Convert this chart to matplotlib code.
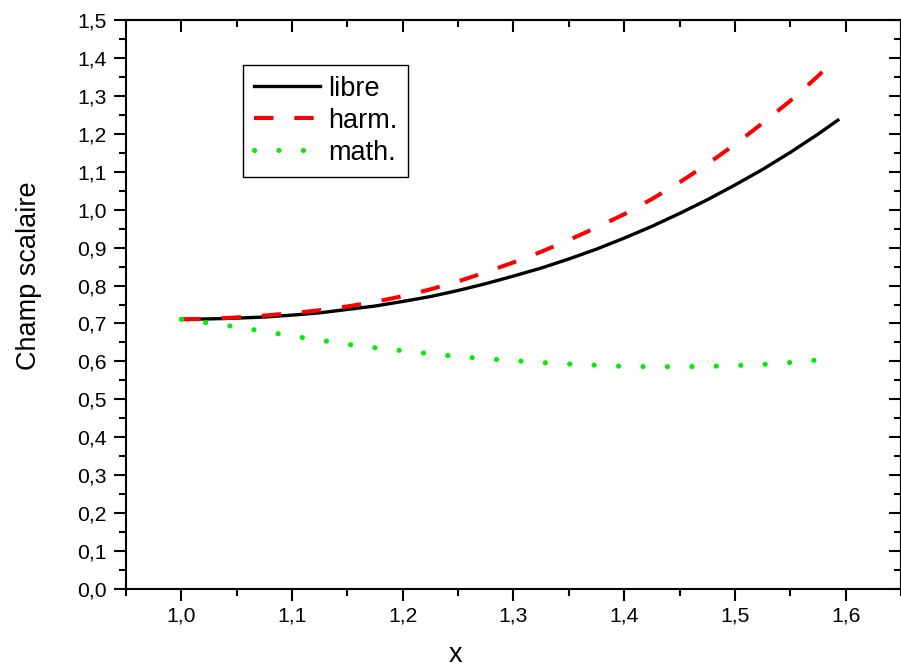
import numpy as np
import matplotlib
matplotlib.use("Agg")
import matplotlib.pyplot as plt
from matplotlib.ticker import MultipleLocator, FuncFormatter

# data
x_libre = [1.000, 1.025, 1.050, 1.075, 1.100, 1.125, 1.150, 1.175, 1.200, 1.225,
           1.250, 1.275, 1.300, 1.325, 1.350, 1.375, 1.400, 1.425, 1.450, 1.475,
           1.500, 1.525, 1.550, 1.575, 1.593]
y_libre = [0.711, 0.712, 0.714, 0.717, 0.722, 0.728, 0.737, 0.746, 0.758, 0.771,
           0.787, 0.805, 0.825, 0.846, 0.870, 0.896, 0.925, 0.956, 0.990, 1.026,
           1.065, 1.106, 1.151, 1.199, 1.236]

x_harm = [1.000, 1.025, 1.050, 1.075, 1.100, 1.125, 1.150, 1.175, 1.200, 1.225,
          1.250, 1.275, 1.300, 1.325, 1.350, 1.375, 1.400, 1.425, 1.450, 1.475,
          1.500, 1.525, 1.550, 1.575, 1.592]
y_harm = [0.711, 0.712, 0.716, 0.721, 0.727, 0.735, 0.745, 0.757, 0.772, 0.790,
          0.811, 0.835, 0.861, 0.889, 0.920, 0.953, 0.988, 1.028, 1.072, 1.120,
          1.172, 1.228, 1.287, 1.352, 1.402]

x_math = [1.000, 1.025, 1.050, 1.075, 1.100, 1.125, 1.150, 1.175, 1.200, 1.225,
          1.250, 1.275, 1.300, 1.325, 1.350, 1.375, 1.400, 1.425, 1.450, 1.475,
          1.500, 1.525, 1.550, 1.580]
y_math = [0.711, 0.701, 0.691, 0.679, 0.667, 0.656, 0.645, 0.636, 0.628, 0.620,
          0.613, 0.607, 0.602, 0.597, 0.593, 0.590, 0.587, 0.586, 0.586, 0.587,
          0.589, 0.592, 0.597, 0.605]

plt.rcParams['font.family'] = ['Liberation Sans', 'DejaVu Sans']
plt.rcParams['lines.scale_dashes'] = False

fig = plt.figure(figsize=(9.01, 6.69), dpi=100)
ax = fig.add_axes([126/901, 1 - 589/669, 1 - 126/901, (589 - 20)/669])

ax.plot(x_libre, y_libre, color='black', lw=2.4, label='libre')
ax.plot(x_harm, y_harm, color='#ff0000', lw=2.9, dashes=(14, 15), label='harm.')
ax.plot(x_math, y_math, color='#00ee00', lw=3.7, dashes=(0.1, 17.5),
        dash_capstyle='round', label='math.')

ax.set_xlim(0.95, 1.65)
ax.set_ylim(0.0, 1.5)

fmt = FuncFormatter(lambda v, p: f'{v:.1f}'.replace('.', ','))
ax.xaxis.set_major_locator(MultipleLocator(0.1))
ax.xaxis.set_minor_locator(MultipleLocator(0.05))
ax.yaxis.set_major_locator(MultipleLocator(0.1))
ax.yaxis.set_minor_locator(MultipleLocator(0.05))
ax.xaxis.set_major_formatter(fmt)
ax.yaxis.set_major_formatter(fmt)
ax.set_xticks([1.0, 1.1, 1.2, 1.3, 1.4, 1.5, 1.6])

ax.tick_params(which='both', direction='out', width=1.5, labelsize=15.2,
               top=False, right=False)
ax.tick_params(which='major', length=8.6, pad=5)
ax.tick_params(which='minor', length=4.8)
ax.tick_params(axis='x', which='major', pad=4)

for s in ax.spines.values():
    s.set_linewidth(1.5)

# inward ticks on top and right, like the original
top = ax.secondary_xaxis('top')
top.xaxis.set_major_locator(MultipleLocator(0.1))
top.xaxis.set_minor_locator(MultipleLocator(0.05))
top.tick_params(which='both', direction='in', width=1.5, labeltop=False)
top.tick_params(which='major', length=8.6)
top.tick_params(which='minor', length=4.8)
top.spines['top'].set_linewidth(1.5)

right = ax.secondary_yaxis('right')
right.yaxis.set_major_locator(MultipleLocator(0.1))
right.yaxis.set_minor_locator(MultipleLocator(0.05))
right.tick_params(which='both', direction='in', width=1.5, labelright=False)
right.tick_params(which='major', length=8.6)
right.tick_params(which='minor', length=4.8)
right.spines['right'].set_linewidth(1.5)

fig.text(29/901, 1 - 276/669, 'Champ scalaire', rotation=90, ha='center',
         va='center', fontsize=19.5)
fig.text(456/901, 1 - 662/669, 'x', ha='center', va='baseline', fontsize=19.5)

leg = ax.legend(loc='upper left', bbox_to_anchor=(243/901, 1 - 65/669),
                bbox_transform=fig.transFigure, borderaxespad=0,
                fontsize=19.5, handlelength=2.45, handletextpad=0.28,
                labelspacing=0.22, borderpad=0.4, fancybox=False,
                framealpha=1, edgecolor='black')
leg.get_frame().set_linewidth(1.0)

fig.savefig('out.png', dpi=100)
